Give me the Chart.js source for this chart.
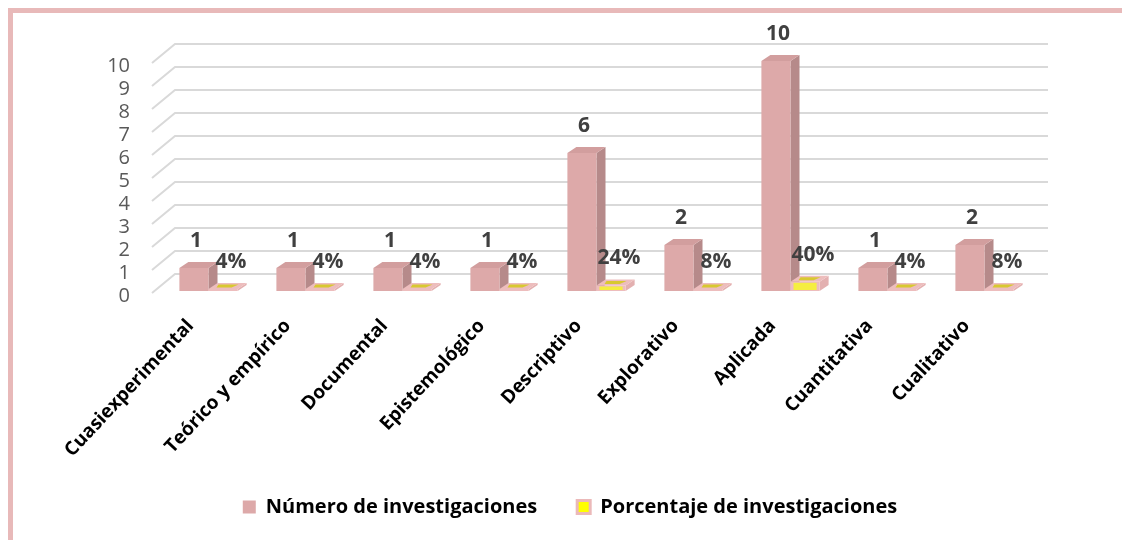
<!DOCTYPE html>
<html>
<head>
<meta charset="utf-8">
<script src="https://cdn.jsdelivr.net/npm/chart.js@4.4.1/dist/chart.umd.min.js"></script>
<style>
    body { margin: 0; background: #fff; }
    #frame {
        position: absolute; left: 8px; top: 8px; right: 0; bottom: 0;
        border-top: 5px solid #E8B9B9; border-left: 5px solid #E8B9B9;
    }
    #tipos { position: absolute; left: 0; top: 0; }
</style>
</head>
<body>
<div id="frame"></div>
<canvas id="tipos" width="1122" height="540"></canvas>
<script>
// data
var categorias = ['Cuasiexperimental', 'Teórico y empírico', 'Documental', 'Epistemológico',
    'Descriptivo', 'Explorativo', 'Aplicada', 'Cuantitativa', 'Cualitativo'];
var numero = [1, 1, 1, 1, 6, 2, 10, 1, 2];
var porcentaje = [4, 4, 4, 4, 24, 8, 40, 4, 8];
var yTicks = [0, 1, 2, 3, 4, 5, 6, 7, 8, 9, 10];

var FONT = "'Open Sans', sans-serif";

// 3d look: bars get a side face and a top face, the grid gets a floor diagonal
var bars3d = {
    id: 'bars3d',
    beforeDatasetsDraw: function (chart) {
        var ctx = chart.ctx;
        var area = chart.chartArea;
        var y = chart.scales.y;

        // grid lines
        ctx.save();
        ctx.strokeStyle = '#D9D9D9';
        ctx.lineWidth = 2;
        var x0 = area.left - 8, gdx = 23, gdy = 19;
        yTicks.forEach(function (v) {
            var py = y.getPixelForValue(v) + 2;
            ctx.beginPath();
            ctx.moveTo(x0, py);
            ctx.lineTo(x0 + gdx, py - gdy);
            ctx.lineTo(area.right - 8 + gdx, py - gdy);
            ctx.stroke();
        });
        ctx.restore();

        var dx = 9, dy = 6;
        chart.data.datasets.forEach(function (ds, di) {
            var meta = chart.getDatasetMeta(di);
            meta.data.forEach(function (bar) {
                var p = bar.getProps(['x', 'y', 'base', 'width'], true);
                var l = p.x - p.width / 2, r = p.x + p.width / 2;
                var t = p.y, b = p.base;
                if (di === 0) {
                    // side
                    ctx.fillStyle = '#B68A8A';
                    ctx.beginPath();
                    ctx.moveTo(r, t); ctx.lineTo(r + dx, t - dy); ctx.lineTo(r + dx, b - dy); ctx.lineTo(r, b);
                    ctx.closePath(); ctx.fill();
                    // top
                    ctx.fillStyle = '#D29E9E';
                    ctx.beginPath();
                    ctx.moveTo(l, t); ctx.lineTo(l + dx, t - dy); ctx.lineTo(r + dx, t - dy); ctx.lineTo(r, t);
                    ctx.closePath(); ctx.fill();
                    // front
                    ctx.fillStyle = '#DDA9A9';
                    ctx.fillRect(l, t, p.width, b - t);
                } else {
                    var h = Math.max(b - t, 2);
                    t = b - h;
                    // side
                    ctx.fillStyle = '#E3B0B0';
                    ctx.beginPath();
                    ctx.moveTo(r, t); ctx.lineTo(r + dx, t - dy); ctx.lineTo(r + dx, b - dy); ctx.lineTo(r, b);
                    ctx.closePath(); ctx.fill();
                    // top, pink rim with yellow inside
                    ctx.fillStyle = '#EDBDBD';
                    ctx.beginPath();
                    ctx.moveTo(l, t); ctx.lineTo(l + dx, t - dy); ctx.lineTo(r + dx, t - dy); ctx.lineTo(r, t);
                    ctx.closePath(); ctx.fill();
                    ctx.fillStyle = '#D8C830';
                    ctx.beginPath();
                    ctx.moveTo(l + 8, t - 1.5); ctx.lineTo(l + 10, t - dy + 1.5);
                    ctx.lineTo(r + dx - 8, t - dy + 1.5); ctx.lineTo(r - 6, t - 1.5);
                    ctx.closePath(); ctx.fill();
                    // front
                    ctx.fillStyle = '#EDBDBD';
                    ctx.fillRect(l, t, p.width, h);
                    if (h > 4) {
                        ctx.fillStyle = '#F5EE40';
                        ctx.fillRect(l + 3, t + 1, p.width - 6, h - 2);
                    }
                }
            });
        });

        // value labels
        ctx.save();
        ctx.fillStyle = '#404040';
        ctx.font = 'bold 21px ' + FONT;
        ctx.textAlign = 'center';
        ctx.textBaseline = 'middle';
        chart.getDatasetMeta(0).data.forEach(function (bar, i) {
            ctx.fillText(String(numero[i]), bar.x + 2, bar.y - 27);
        });
        chart.getDatasetMeta(1).data.forEach(function (bar, i) {
            ctx.fillText(porcentaje[i] + '%', bar.x + 8, Math.min(bar.y, bar.base - 2) - 27);
        });
        ctx.restore();
        return false;
    }
};

var ctx = document.getElementById('tipos').getContext('2d');
var tipos = new Chart(ctx, {
    type: 'bar',
    data: {
        labels: categorias,
        datasets: [
            {
                label: 'Número de investigaciones',
                data: numero,
                backgroundColor: '#DDA9A9',
                borderWidth: 0
            },
            {
                label: 'Porcentaje de investigaciones',
                data: porcentaje.map(function (p) { return p / 100; }),
                backgroundColor: '#FFFF00',
                borderColor: '#EBB9B9',
                borderWidth: 3
            }
        ]
    },
    options: {
        responsive: false,
        animation: false,
        events: [],
        layout: { padding: { left: 107, right: 89, top: 61, bottom: 13 } },
        datasets: { bar: { categoryPercentage: 0.6, barPercentage: 1.0 } },
        plugins: {
            tooltip: { enabled: false },
            legend: {
                position: 'bottom',
                labels: {
                    boxWidth: 13,
                    boxHeight: 13,
                    padding: 40,
                    color: '#000',
                    font: { family: FONT, size: 20, weight: 'bold' }
                }
            }
        },
        scales: {
            x: {
                grid: { display: false },
                border: { display: false },
                ticks: {
                    minRotation: 47,
                    maxRotation: 47,
                    color: '#000',
                    padding: 16,
                    labelOffset: -18,
                    font: { family: FONT, size: 19, weight: 'bold' }
                },
                afterFit: function (scale) {
                    scale.height = 166;
                    scale.paddingLeft = 0;
                    scale.paddingRight = 0;
                }
            },
            y: {
                min: 0,
                max: 10,
                grid: { display: false, drawTicks: false },
                border: { display: false },
                ticks: {
                    stepSize: 1,
                    autoSkip: false,
                    padding: 30,
                    labelOffset: 5,
                    color: '#595959',
                    font: { family: FONT, size: 20 }
                },
                afterFit: function (scale) {
                    scale.width = 53;
                }
            }
        }
    },
    plugins: [bars3d]
});
</script>
</body>
</html>
